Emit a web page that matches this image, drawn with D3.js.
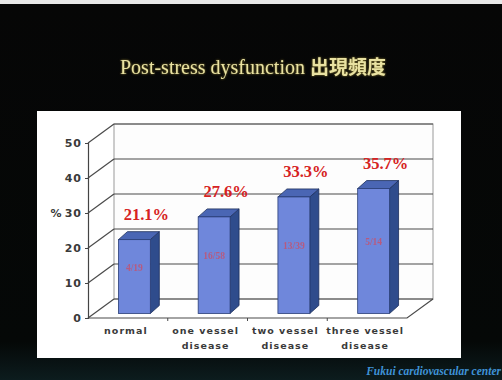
<!DOCTYPE html>
<html><head><meta charset="utf-8">
<script src="https://cdn.jsdelivr.net/npm/d3@7"></script>
<style>html,body{margin:0;padding:0;background:#000;}svg{display:block;}</style>
</head><body>
<script>
const categories = [["normal"], ["one vessel", "disease"], ["two vessel", "disease"], ["three vessel", "disease"]];
const values = [21.1, 27.6, 33.3, 35.7];
const valueLabels = ["21.1%", "27.6%", "33.3%", "35.7%"];
const countLabels = ["4/19", "16/58", "13/39", "5/14"];
const yTicks = [0, 10, 20, 30, 40, 50];
const title = "Post-stress dysfunction ";
const titleCJK = "出現頻度";
const footer = "Fukui cardiovascular center";

const W = 502, H = 380;
const svg = d3.select("body").append("svg").attr("width", W).attr("height", H);

const defs = svg.append("defs");
const bg = defs.append("linearGradient").attr("id","bg").attr("x1",0).attr("y1",0).attr("x2",0).attr("y2",1);
bg.append("stop").attr("offset","0%").attr("stop-color","#060606");
bg.append("stop").attr("offset","90%").attr("stop-color","#050807");
bg.append("stop").attr("offset","100%").attr("stop-color","#0c1c1e");
svg.append("rect").attr("width",W).attr("height",H).attr("fill","url(#bg)");
svg.append("rect").attr("width",W).attr("height",4).attr("fill","#e8e8e8");

// title
const t = svg.append("text").attr("x",253).attr("y",74).attr("text-anchor","middle")
  .attr("fill","#e9e2a2").style("filter","drop-shadow(0 0 1px #8a7a30)");
t.append("tspan").attr("font-family","'Liberation Serif', serif").attr("font-size",20).text(title);
t.append("tspan").attr("font-family","'Noto Sans CJK JP', sans-serif").attr("font-weight","bold").attr("font-size",19).text(titleCJK);

// panel
svg.append("rect").attr("x",37).attr("y",111).attr("width",424).attr("height",247).attr("fill","#ffffff");

const y = d3.scaleLinear().domain([0,50]).range([318,143]);
const x = d3.scaleBand().domain(d3.range(categories.length)).range([88,407]).paddingInner(0.6).paddingOuter(0.3);
const DX = 26, DY = -19;
const x0 = 88, x1 = 407;

const g = svg.append("g");
const gridColor = "#4a4a4a";
// back wall outline and gridlines
g.append("rect").attr("x",x0+DX).attr("y",y(50)+DY).attr("width",x1-x0).attr("height",y(0)-y(50))
  .attr("fill","#fdfdfd").attr("stroke","#9a9a9a").attr("stroke-width",1);
yTicks.forEach(v => {
  g.append("line").attr("x1",x0+DX).attr("x2",x1+DX).attr("y1",y(v)+DY).attr("y2",y(v)+DY)
    .attr("stroke",gridColor).attr("stroke-width",1.2);
  g.append("line").attr("x1",x0).attr("x2",x0+DX).attr("y1",y(v)).attr("y2",y(v)+DY)
    .attr("stroke",gridColor).attr("stroke-width",1.2);
});
// floor
g.append("path").attr("d",`M${x0},${y(0)}L${x1},${y(0)}L${x1+DX},${y(0)+DY}`)
  .attr("fill","none").attr("stroke",gridColor).attr("stroke-width",1.2);
// floor category ticks
const step = x.step();
for (let i=0;i<categories.length-1;i++){
  const bx = x(i) + x.bandwidth()/2 + step/2;
  g.append("line").attr("x1",bx).attr("x2",bx).attr("y1",y(0)).attr("y2",y(0)+3).attr("stroke",gridColor);
}

// y axis
const ax = g.append("g").attr("transform",`translate(${x0},0)`)
  .call(d3.axisLeft(y).tickValues(yTicks).tickSize(3).tickPadding(3));
ax.select(".domain").attr("stroke","#444").attr("stroke-width",1.2);
ax.selectAll(".tick line").attr("stroke","#444");
ax.selectAll(".tick text").attr("font-family","'DejaVu Sans', sans-serif").attr("font-weight","bold")
  .attr("font-size",11).attr("fill","#3a3a3a").attr("letter-spacing",1);
g.append("text").attr("x",56).attr("y",y(30)+4).attr("text-anchor","middle")
  .attr("font-family","'DejaVu Sans', sans-serif").attr("font-weight","bold").attr("font-size",11)
  .attr("fill","#3a3a3a").text("%");

// bars
const fx = 6.5, fy = -4.5, bdx = 9, bdy = -8;
const bars = g.selectAll(".bar").data(values).enter().append("g");
bars.each(function(v,i){
  const sel = d3.select(this);
  const L = x(i)+fx, R = L + x.bandwidth(), T = y(v)+fy, B = y(0)+fy;
  sel.append("path").attr("d",`M${R},${T}L${R+bdx},${T+bdy}L${R+bdx},${B+bdy}L${R},${B}Z`)
    .attr("fill","#2f4c8c").attr("stroke","#1c2e5c").attr("stroke-width",0.8);
  sel.append("path").attr("d",`M${L},${T}L${L+bdx},${T+bdy}L${R+bdx},${T+bdy}L${R},${T}Z`)
    .attr("fill","#4a66b4").attr("stroke","#1c2e5c").attr("stroke-width",0.8);
  sel.append("rect").attr("x",L).attr("y",T).attr("width",R-L).attr("height",B-T)
    .attr("fill","#6f87db").attr("stroke","#2a3f78").attr("stroke-width",0.8);
  sel.append("text").attr("x",(L+R)/2).attr("y",(T+B)/2-6).attr("text-anchor","middle")
    .attr("font-family","'Liberation Serif', serif").attr("font-weight","bold").attr("font-size",9.5).attr("fill","#c8506a")
    .attr("opacity",0.8).text(countLabels[i]);
  sel.append("text").attr("x",(L+R)/2+12).attr("y",T-20).attr("text-anchor","middle")
    .attr("font-family","'Liberation Serif', serif").attr("font-weight","bold").attr("font-size",16.5)
    .attr("fill","#d62222").text(valueLabels[i]);
});

// category labels
categories.forEach((lines,i) => {
  const cx = x(i) + x.bandwidth()/2 - 2;
  lines.forEach((ln,j) => {
    g.append("text").attr("x",cx).attr("y",334+j*15).attr("text-anchor","middle")
      .attr("font-family","'DejaVu Sans', sans-serif").attr("font-weight","bold").attr("font-size",9.5)
      .attr("letter-spacing",1).attr("fill","#3a3a3a").text(ln);
  });
});

// footer
svg.append("text").attr("x",501).attr("y",375).attr("text-anchor","end")
  .attr("font-family","'Liberation Serif', serif").attr("font-style","italic").attr("font-weight","bold")
  .attr("font-size",11.5).attr("fill","#3f92d6").text(footer);
</script>
</body></html>
